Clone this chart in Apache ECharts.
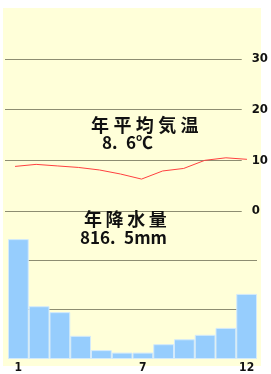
<!DOCTYPE html>
<html>
<head>
<meta charset="utf-8">
<script src="https://cdn.jsdelivr.net/npm/echarts@6/dist/echarts.min.js"></script>
<style>
  html, body { margin: 0; padding: 0; background: #fff; }
  #chart { width: 271px; height: 374px; }
</style>
</head>
<body>
<div id="chart"></div>
<script>
const months = ['1', '2', '3', '4', '5', '6', '7', '8', '9', '10', '11', '12'];
const temperature = [8.8, 9.2, 8.9, 8.6, 8.1, 7.3, 6.3, 7.9, 8.4, 10.0, 10.5, 10.2];
const precipitation = [243, 107, 95, 47, 18, 13, 13, 30, 40, 49, 63, 132];
const tempTicks = [0, 10, 20, 30];
const shownMonths = ['1', '7', '12'];

const gridColor = '#8d8d72';
const jpFont = '"Noto Sans CJK JP", sans-serif';
const numFont = '"Liberation Sans Narrow", "DejaVu Sans Condensed", sans-serif';

var chart = echarts.init(document.getElementById('chart'));

// spaced characters, one text per char
spacedText = (str, x, y, pitch, size) => {
    return str.split('').map((ch, i) => ({
        type: 'text',
        z: 100,
        x: x + i * pitch,
        y: y,
        style: {
            text: ch,
            fill: '#111',
            font: 'bold ' + size + 'px ' + jpFont,
            verticalAlign: 'middle'
        }
    }));
};

var option = {
    animation: false,
    graphic: [
        {
            type: 'rect',
            z: -10,
            shape: {x: 3, y: 8, width: 258, height: 358},
            style: {fill: '#ffffd9'}
        },
        ...spacedText('年平均気温', 91, 125, 22.4, 18),
        {
            type: 'text', z: 100, x: 102, y: 143,
            style: {text: '8.\u20026℃', fill: '#111', font: 'bold 17px ' + jpFont, verticalAlign: 'middle'}
        },
        ...spacedText('年降水量', 84, 219, 21.6, 18),
        {
            type: 'text', z: 100, x: 80, y: 238,
            style: {text: '816.\u20025mm', fill: '#111', font: 'bold 17px ' + jpFont, verticalAlign: 'middle'}
        }
    ],
    grid: [
        {left: 8, right: 14, top: 211, bottom: 11},
        {left: 4.5, right: 13.5, top: 59, bottom: 163},
        {left: 5, right: 18, top: 59, bottom: 163}
    ],
    xAxis: [
        {
            gridIndex: 0,
            type: 'category',
            data: months,
            boundaryGap: true,
            axisLine: {show: false},
            axisTick: {show: false},
            axisLabel: {
                margin: 3,
                interval: (i, v) => shownMonths.includes(v),
                color: '#111',
                fontSize: 12,
                fontWeight: 'bold',
                fontFamily: numFont
            }
        },
        {gridIndex: 1, type: 'category', data: months, boundaryGap: true, show: false},
        {gridIndex: 2, type: 'category', data: months, boundaryGap: true, show: false}
    ],
    yAxis: [
        {
            gridIndex: 0,
            type: 'value',
            min: 0,
            max: 300,
            interval: 100,
            axisLine: {show: false},
            axisTick: {show: false},
            axisLabel: {show: false},
            splitLine: {show: true, showMaxLine: false, showMinLine: false, lineStyle: {color: gridColor, width: 1}}
        },
        {gridIndex: 1, type: 'value', min: 0, max: 30, show: false},
        {
            gridIndex: 2,
            type: 'value',
            position: 'right',
            min: tempTicks[0],
            max: tempTicks[tempTicks.length - 1],
            interval: 10,
            axisLine: {show: false},
            axisTick: {show: false},
            axisLabel: {
                margin: 10,
                color: '#111',
                fontSize: 13,
                fontWeight: 'bold',
                fontFamily: numFont
            },
            splitLine: {show: true, lineStyle: {color: gridColor, width: 1}}
        }
    ],
    series: [
        {
            type: 'bar',
            xAxisIndex: 0,
            yAxisIndex: 0,
            data: precipitation,
            barCategoryGap: '0%',
            itemStyle: {color: '#96cdfd', borderColor: '#d3eafb', borderWidth: 1}
        },
        {
            type: 'line',
            xAxisIndex: 1,
            yAxisIndex: 1,
            data: temperature,
            symbol: 'none',
            lineStyle: {color: '#ff4040', width: 1}
        }
    ]
};

chart.setOption(option);
</script>
</body>
</html>
